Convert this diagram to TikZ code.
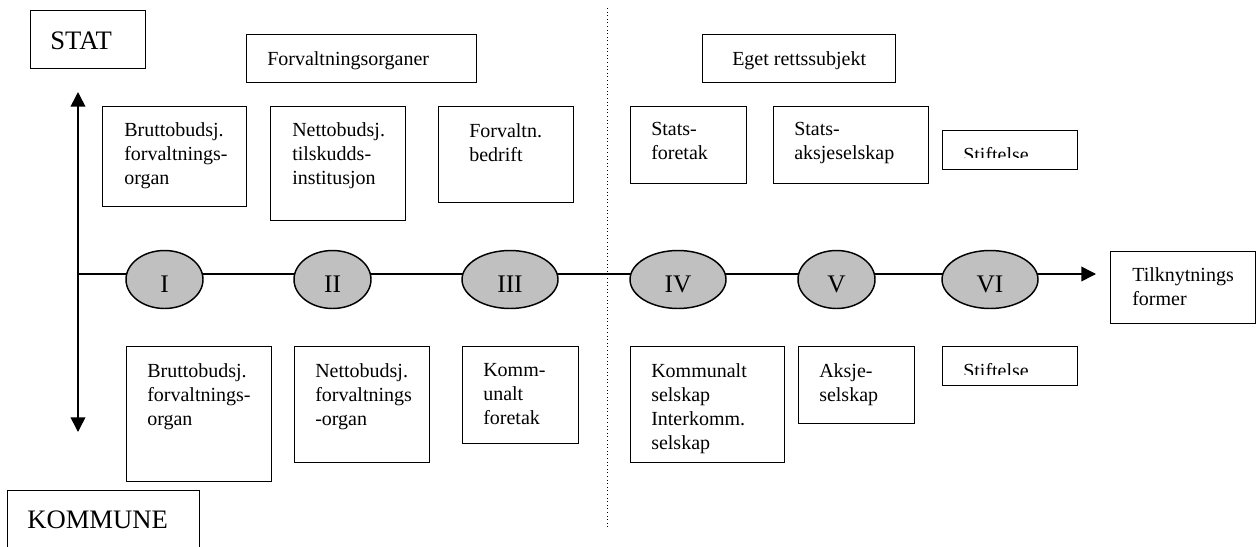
\documentclass[tikz,border=0pt]{standalone}
\usepackage{fontspec}
\setmainfont{Liberation Serif}
\usetikzlibrary{arrows.meta,shapes.geometric}
\definecolor{ovalgrey}{RGB}{192,192,192}
\tikzset{
  frame/.style={draw, line width=1.1pt, anchor=north west, inner sep=0pt},
  txt/.style={font=\fontsize{15}{18}\selectfont, align=left, anchor=north west, inner sep=0pt},
  bigtxt/.style={font=\fontsize{20}{22}\selectfont, anchor=base west, inner sep=0pt},
  oval/.style={ellipse, draw, line width=1.1pt, fill=ovalgrey, inner sep=0pt,
    minimum height=43.5pt, font=\fontsize{19}{22}\selectfont, text height=20pt, text depth=0pt},
  axtip/.tip={Triangle[length=11pt, width=11pt]}
}
\begin{document}
\begin{tikzpicture}[x=0.75pt, y=-0.75pt]
    \useasboundingbox (0,0) rectangle (1256,546);
    % axes
    \coordinate (up) at (78,92);
    \coordinate (down) at (78,432);
    \coordinate (orig) at (78,274);
    \coordinate (end) at (1096,274);
    \draw[line width=1.2pt, axtip-axtip] (up) -- (down);
    \draw[line width=1.1pt, -axtip] (orig) -- (end);
    \draw[dotted, line width=0.7pt] (607,8) -- (607,527);
    % forms along the line
    \node[oval, minimum width=57.75pt] (I) at (164.5,279.5) {I};
    \node[oval, minimum width=57.75pt] (II) at (332.5,279.5) {II};
    \node[oval, minimum width=72pt] (III) at (510,279.5) {III};
    \node[oval, minimum width=72pt] (IV) at (678,279.5) {IV};
    \node[oval, minimum width=57.75pt] (V) at (836.5,279.5) {V};
    \node[oval, minimum width=72pt] (VI) at (990,279.5) {VI};
    % headings
    \node[frame, minimum width=86.25pt, minimum height=43.5pt] (stat) at (30,10) {};
    \node[bigtxt] (stat-t) at ([shift={(20,39)}]stat.north west) {STAT};
    \node[frame, minimum width=144pt, minimum height=52.5pt] (kom) at (7,490) {};
    \node[bigtxt] (kom-t) at ([shift={(20,38)}]kom.north west) {KOMMUNE};
    \node[frame, minimum width=172.5pt, minimum height=36pt] (forv) at (246,34) {};
    \node[txt] (forv-t) at ([shift={(21,17)}]forv.north west) {Forvaltningsorganer};
    \node[frame, minimum width=144.75pt, minimum height=36pt] (eget) at (702,34) {};
    \node[txt] (eget-t) at ([shift={(30,17)}]eget.north west) {Eget rettssubjekt};
    \node[frame, minimum width=108.75pt, minimum height=54pt] (tk) at (1110,251) {};
    \node[txt] (tk-t) at ([shift={(22,16)}]tk.north west) {Tilknytnings\\former};
    % stat
    \node[frame, minimum width=108pt, minimum height=75pt] (bt1) at (102,106) {};
    \node[txt] (bt1-t) at ([shift={(22,16)}]bt1.north west) {Bruttobudsj.\\forvaltnings-\\organ};
    \node[frame, minimum width=101.25pt, minimum height=85.5pt] (nt1) at (270,106) {};
    \node[txt] (nt1-t) at ([shift={(22,16)}]nt1.north west) {Nettobudsj.\\tilskudds-\\institusjon};
    \node[frame, minimum width=101.25pt, minimum height=72pt] (fb) at (438,106) {};
    \node[txt] (fb-t) at ([shift={(31,17)}]fb.north west) {Forvaltn.\\bedrift};
    \node[frame, minimum width=87pt, minimum height=57.75pt] (sf) at (630,106) {};
    \node[txt] (sf-t) at ([shift={(21,16)}]sf.north west) {Stats-\\foretak};
    \node[frame, minimum width=116.25pt, minimum height=57.75pt] (sa) at (773,106) {};
    \node[txt] (sa-t) at ([shift={(21,16)}]sa.north west) {Stats-\\aksjeselskap};
    \node[frame, minimum width=101.25pt, minimum height=29.25pt] (st1) at (942,130) {};
    \begin{scope}
      \clip (st1.north west) rectangle ([shift={(135,27)}]st1.north west);
      \node[txt] (st1-t) at ([shift={(21,17)}]st1.north west) {Stiftelse};
    \end{scope}
    % kommune
    \node[frame, minimum width=108.75pt, minimum height=101.25pt] (bt2) at (126,346) {};
    \node[txt] (bt2-t) at ([shift={(21,17)}]bt2.north west) {Bruttobudsj.\\forvaltnings-\\organ};
    \node[frame, minimum width=101.25pt, minimum height=87pt] (nf2) at (294,346) {};
    \node[txt] (nf2-t) at ([shift={(21,17)}]nf2.north west) {Nettobudsj.\\forvaltnings\\-organ};
    \node[frame, minimum width=87pt, minimum height=72.75pt] (kf) at (462,346) {};
    \node[txt] (kf-t) at ([shift={(21,17)}]kf.north west) {Komm-\\unalt\\foretak};
    \node[frame, minimum width=115.5pt, minimum height=87pt] (ks) at (630,346) {};
    \node[txt] (ks-t) at ([shift={(21,17)}]ks.north west) {Kommunalt\\selskap\\Interkomm.\\selskap};
    \node[frame, minimum width=87pt, minimum height=57.75pt] (as) at (798,346) {};
    \node[txt] (as-t) at ([shift={(21,17)}]as.north west) {Aksje-\\selskap};
    \node[frame, minimum width=101.25pt, minimum height=29.25pt] (st2) at (942,346) {};
    \begin{scope}
      \clip (st2.north west) rectangle ([shift={(135,28)}]st2.north west);
      \node[txt] (st2-t) at ([shift={(21,17)}]st2.north west) {Stiftelse};
    \end{scope}
\end{tikzpicture}
\end{document}
